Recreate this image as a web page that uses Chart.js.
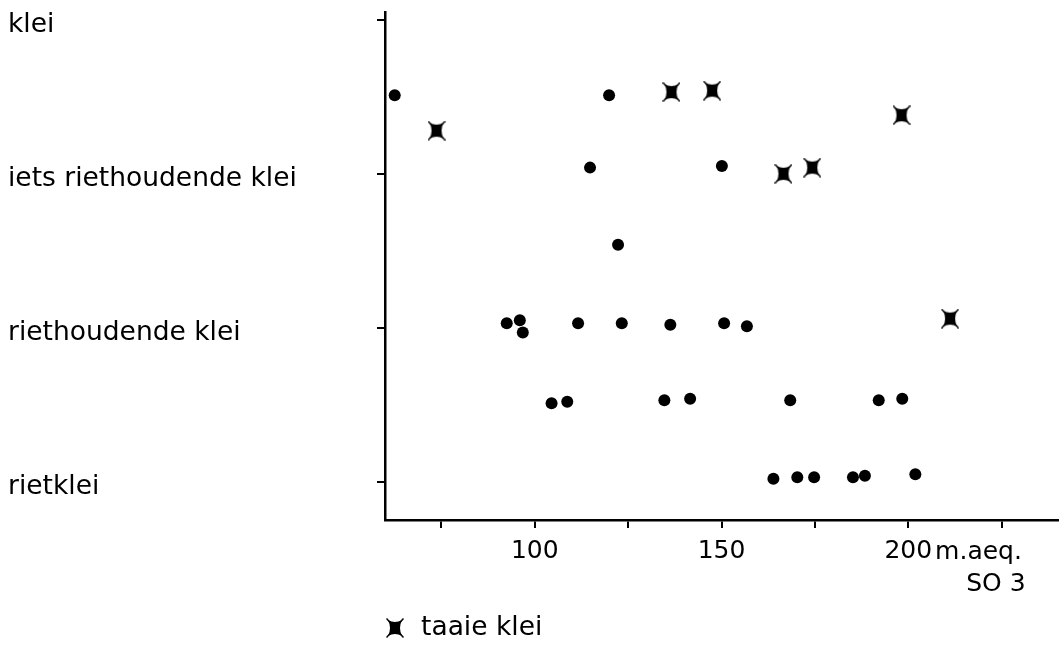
<!DOCTYPE html>
<html>
<head>
<meta charset="utf-8">
<script src="https://cdn.jsdelivr.net/npm/chart.js@4"></script>
<style>
  body { margin: 0; background: #fff; }
  #wrap { width: 1064px; height: 649px; position: relative; }
</style>
</head>
<body>
<div id="wrap"><canvas id="grafiek"></canvas></div>
<script>
// grondsoorten op de y-as (0 = onderaan)
const grondsoorten = ['rietklei', 'riethoudende klei', 'iets riethoudende klei', 'klei'];
const xTicks = [75, 100, 125, 150, 175, 200, 225];
const xLabels = { 100: '100', 150: '150', 200: '200' };

// gewone klei (stippen): m.aeq. en plaats op de grondsoort-schaal
const kleiX = [62.5, 119.9, 114.8, 150.1, 122.3,
               92.5, 96.0, 96.8, 111.6, 123.3, 136.3, 150.7, 156.8,
               104.5, 108.7, 134.7, 141.6, 168.4, 192.1, 198.4,
               163.9, 170.3, 174.8, 185.2, 188.4, 201.9];
const kleiY = [2.51, 2.51, 2.04, 2.05, 1.54,
               1.03, 1.05, 0.97, 1.03, 1.03, 1.02, 1.03, 1.01,
               0.51, 0.52, 0.53, 0.54, 0.53, 0.53, 0.54,
               0.02, 0.03, 0.03, 0.03, 0.04, 0.05];

// taaie klei (kruisjes)
const taaiX = [73.7, 136.6, 147.5, 198.2, 166.6, 174.3, 211.2];
const taaiY = [2.28, 2.53, 2.54, 2.38, 2.00, 2.04, 1.06];

const FONT = '"DejaVu Sans", sans-serif';

// kruisje zoals in de tekening: gevuld blokje met vier puntjes
function maakKruis() {
    const c = document.createElement('canvas');
    c.width = 18; c.height = 20;
    const g = c.getContext('2d');
    g.fillStyle = '#000';
    g.strokeStyle = '#000';
    g.beginPath();
    g.moveTo(2, 2);
    g.quadraticCurveTo(9, 6, 16, 2);
    g.quadraticCurveTo(12, 10, 16, 18);
    g.quadraticCurveTo(9, 14, 2, 18);
    g.quadraticCurveTo(6, 10, 2, 2);
    g.fill();
    g.lineWidth = 1.5;
    g.beginPath();
    g.moveTo(0.5, 0.5); g.lineTo(17.5, 19.5);
    g.moveTo(17.5, 0.5); g.lineTo(0.5, 19.5);
    g.stroke();
    return c;
}
const kruis = maakKruis();

// eenheid, "SO 3" en legenda onder de x-as
const extraTekst = {
    id: 'extraTekst',
    afterDraw(chart) {
        const ctx = chart.ctx;
        const x = chart.scales.x;
        const p200 = x.getPixelForValue(200);
        ctx.save();
        ctx.fillStyle = '#000';
        ctx.textBaseline = 'middle';
        ctx.textAlign = 'left';
        ctx.font = '25px ' + FONT;
        const w = ctx.measureText('200').width;
        ctx.fillText('m.aeq.', p200 + w / 2 + 3, x.top + 32);
        ctx.fillText('SO 3', p200 + 58, x.top + 64);
        // legenda
        ctx.drawImage(kruis, x.left + 10 - 9, x.top + 108 - 10);
        ctx.font = '26.5px ' + FONT;
        ctx.fillText('taaie klei', x.left + 36, x.top + 108);
        ctx.restore();
    }
};

const ctx = document.getElementById('grafiek').getContext('2d');
const grafiek = new Chart(ctx, {
    type: 'scatter',
    data: {
        datasets: [{
            label: 'klei',
            data: kleiX.map((v, i) => ({ x: v, y: kleiY[i] })),
            pointStyle: 'circle',
            pointRadius: 6,
            backgroundColor: '#000',
            borderColor: '#000',
            borderWidth: 0
        }, {
            label: 'taaie klei',
            data: taaiX.map((v, i) => ({ x: v, y: taaiY[i] })),
            pointStyle: kruis,
            backgroundColor: '#000',
            borderColor: '#000'
        }]
    },
    options: {
        responsive: true,
        maintainAspectRatio: false,
        animation: false,
        layout: { padding: { left: 8, top: 12, right: 0, bottom: 0 } },
        plugins: {
            legend: { display: false },
            tooltip: { enabled: false }
        },
        scales: {
            x: {
                type: 'linear',
                min: 59.9,
                max: 240.1,
                afterBuildTicks: s => { s.ticks = xTicks.map(v => ({ value: v })); },
                afterFit: s => { s.height = 129; s.paddingLeft = 0; s.paddingRight = 0; },
                border: { display: true, color: '#000', width: 2.5 },
                grid: { drawOnChartArea: false, drawTicks: true, tickLength: 8, color: '#000', lineWidth: 2 },
                ticks: {
                    autoSkip: false,
                    maxRotation: 0,
                    padding: 8,
                    color: '#000',
                    font: { family: FONT, size: 25 },
                    callback: v => xLabels[v] || ''
                }
            },
            y: {
                type: 'linear',
                min: -0.247,
                max: 3.05,
                afterBuildTicks: s => { s.ticks = grondsoorten.map((n, i) => ({ value: i })); },
                afterFit: s => { s.width = 377; s.paddingTop = 0; s.paddingBottom = 0; },
                border: { display: true, color: '#000', width: 2.5 },
                grid: { drawOnChartArea: false, drawTicks: true, tickLength: 8, color: '#000', lineWidth: 2 },
                ticks: {
                    autoSkip: false,
                    crossAlign: 'far',
                    labelOffset: 5,
                    color: '#000',
                    font: { family: FONT, size: 26.5 },
                    callback: v => grondsoorten[v] || ''
                }
            }
        }
    },
    plugins: [extraTekst]
});
</script>
</body>
</html>
